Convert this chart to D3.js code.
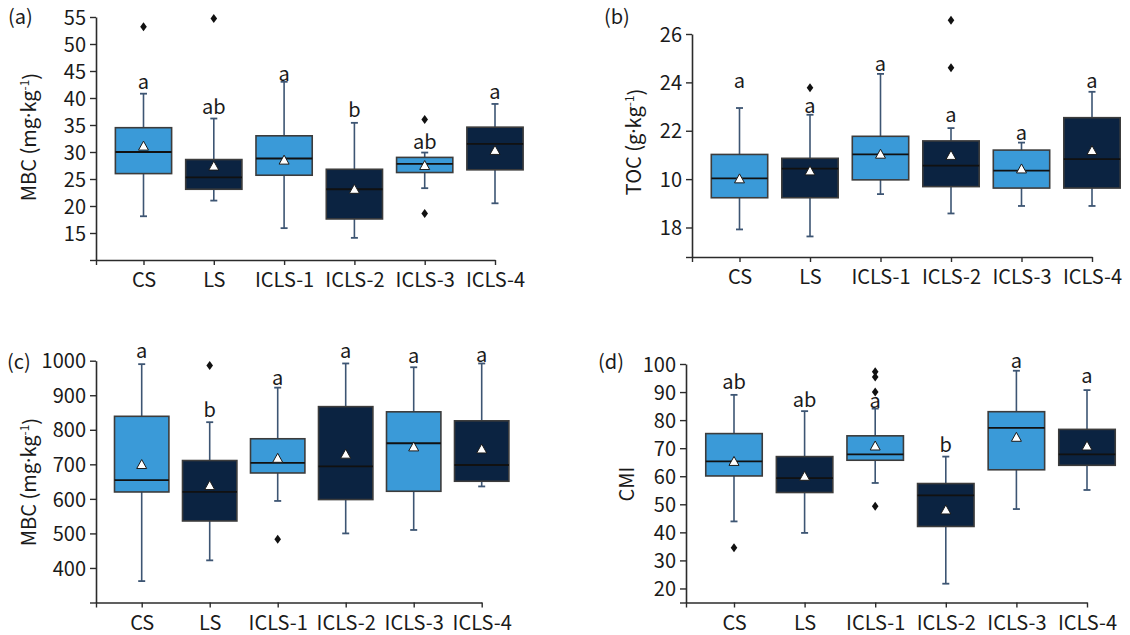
<!DOCTYPE html>
<html>
<head>
<meta charset="utf-8">
<script src="https://cdn.jsdelivr.net/npm/d3@7"></script>
<style>
  html, body { margin: 0; padding: 0; background: #fff; }
  svg { display: block; }
  text { font-family: "Noto Sans CJK SC", "Noto Sans", sans-serif; fill: #1a1a1a; }
</style>
</head>
<body>
<svg id="chart" width="1130" height="635"></svg>
<script>
// ---------------- DATA ----------------
const categories = ["CS", "LS", "ICLS-1", "ICLS-2", "ICLS-3", "ICLS-4"];

// (a) MBC (mg·kg-1)
const aTicks = [15, 20, 25, 30, 35, 40, 45, 50, 55];
const aLow    = [18.1, 21.0, 15.9, 14.1, 23.3, 20.5];
const aQ1     = [26.0, 23.1, 25.7, 17.6, 26.2, 26.7];
const aMedian = [30.0, 25.3, 28.8, 23.1, 27.8, 31.5];
const aQ3     = [34.5, 28.6, 33.0, 26.8, 29.0, 34.6];
const aHigh   = [40.8, 36.2, 43.0, 35.4, 29.9, 38.9];
const aMean   = [31.0, 27.3, 28.4, 23.0, 27.4, 30.2];
const aOutliers = [[53.2], [54.7], [], [], [36.0, 18.6], []];
const aLetters  = ["a", "ab", "a", "b", "ab", "a"];
const aLetterAt = [42.7, 38.2, 44.3, 37.6, 31.7, 40.9];

// (b) TOC (g·kg-1)
const bTicks = [18, 20, 22, 24, 26];
const bTickLabels = ["18", "10", "22", "24", "26"];
const bLow    = [17.92, 17.63, 19.38, 18.58, 18.89, 18.89];
const bQ1     = [19.23, 19.23, 19.97, 19.69, 19.63, 19.63];
const bMedian = [20.03, 20.43, 21.02, 20.56, 20.35, 20.83];
const bQ3     = [21.02, 20.86, 21.77, 21.58, 21.20, 22.54];
const bHigh   = [22.94, 22.66, 24.35, 22.11, 21.51, 23.61];
const bMean   = [19.99, 20.32, 21.01, 20.96, 20.40, 21.16];
const bOutliers = [[], [23.78], [], [26.57, 24.60], [], []];
const bLetters  = ["a", "a", "a", "a", "a", "a"];
const bLetterAt = [24.0, 23.0, 24.7, 22.6, 21.85, 24.0];

// (c) MBC (mg·kg-1)
const cTicks = [400, 500, 600, 700, 800, 900, 1000];
const cLow    = [362, 422, 594, 500, 510, 636];
const cQ1     = [620, 536, 675, 598, 622, 651];
const cMedian = [654, 620, 704, 694, 761, 698];
const cQ3     = [839, 711, 774, 867, 852, 826];
const cHigh   = [990, 822, 922, 992, 981, 992];
const cMean   = [698, 637, 716, 728, 749, 743];
const cOutliers = [[], [986], [483], [], [], []];
const cLetters  = ["a", "b", "a", "a", "a", "a"];
const cLetterAt = [1024, 855, 947, 1025, 1011, 1015];

// (d) CMI
const dTicks = [20, 30, 40, 50, 60, 70, 80, 90, 100];
const dLow    = [43.9, 39.8, 57.6, 21.7, 48.3, 55.1];
const dQ1     = [60.1, 54.2, 65.7, 42.1, 62.3, 63.9];
const dMedian = [65.3, 59.3, 67.8, 53.2, 77.2, 67.8];
const dQ3     = [75.2, 67.0, 74.4, 57.4, 83.0, 76.7];
const dHigh   = [89.0, 83.2, 84.1, 67.0, 97.6, 90.7];
const dMean   = [65.1, 59.8, 70.6, 47.8, 73.7, 70.6];
const dOutliers = [[34.5], [], [97.2, 95.4, 90.0, 49.3], [], [], []];
const dLetters  = ["ab", "ab", "a", "b", "a", "a"];
const dLetterAt = [93.1, 86.8, 86.5, 70.8, 100.6, 95.3];

// ---------------- STYLE ----------------
const fills = ["#3a9ad8", "#0b2341", "#3a9ad8", "#0b2341", "#3a9ad8", "#0b2341"];
const boxStroke = "#3c3c3c";
const whiskerColor = "#3d5573";
const axisColor = "#2b2b2b";
const fontSize = 20;
const fontFam = '"Noto Sans CJK SC", "Noto Sans", sans-serif';

const svg = d3.select("#chart");

function drawPanel(cfg) {
  const g = svg.append("g");
  const y = d3.scaleLinear().domain([cfg.yMin, cfg.yMax]).range([cfg.yBottom, cfg.yTop]);
  const spacing = (cfg.cx5 - cfg.cx0) / 5;
  const xStart = -(cfg.cx0 - cfg.ax) / spacing;
  const x = d3.scaleLinear().domain([xStart, 5]).range([cfg.ax, cfg.cx5]);
  const boxW = spacing * 0.8;

  // y axis
  const yAxis = d3.axisLeft(y)
    .tickValues([cfg.yMin].concat(cfg.ticks))
    .tickFormat(d => {
      if (d === cfg.yMin) return "";
      const i = cfg.ticks.indexOf(d);
      return cfg.tickLabels ? cfg.tickLabels[i] : String(d);
    })
    .tickSize(6).tickPadding(4).tickSizeOuter(0);
  const ya = g.append("g").attr("transform", `translate(${cfg.ax},0)`).call(yAxis);

  // x axis
  const xAxis = d3.axisBottom(x)
    .tickValues([xStart, 0, 1, 2, 3, 4, 5])
    .tickFormat(d => d === xStart ? "" : categories[d])
    .tickSize(5).tickPadding(8).tickSizeOuter(0);
  const xa = g.append("g").attr("transform", `translate(0,${cfg.yBottom})`).call(xAxis);

  [ya, xa].forEach(a => {
    a.select(".domain").attr("stroke", axisColor).attr("stroke-width", 1.6);
    a.selectAll(".tick line").attr("stroke", axisColor).attr("stroke-width", 1.4);
    a.selectAll(".tick text").attr("font-size", fontSize).attr("fill", "#1a1a1a")
      .attr("font-family", fontFam);
  });
  ya.selectAll(".tick text").attr("dy", "0.36em");

  const d = categories.map((c, i) => ({
    i, low: cfg.low[i], q1: cfg.q1[i], med: cfg.median[i], q3: cfg.q3[i],
    high: cfg.high[i], mean: cfg.mean[i], out: cfg.outliers[i],
    letter: cfg.letters[i], letterAt: cfg.letterAt[i]
  }));

  const grp = g.selectAll("g.box").data(d).enter().append("g").attr("class", "box");

  // whiskers
  grp.append("line")
    .attr("x1", b => x(b.i)).attr("x2", b => x(b.i))
    .attr("y1", b => y(b.high)).attr("y2", b => y(b.q3))
    .attr("stroke", whiskerColor).attr("stroke-width", 1.6);
  grp.append("line")
    .attr("x1", b => x(b.i)).attr("x2", b => x(b.i))
    .attr("y1", b => y(b.q1)).attr("y2", b => y(b.low))
    .attr("stroke", whiskerColor).attr("stroke-width", 1.6);
  // caps
  grp.append("line")
    .attr("x1", b => x(b.i) - 3.5).attr("x2", b => x(b.i) + 3.5)
    .attr("y1", b => y(b.high)).attr("y2", b => y(b.high))
    .attr("stroke", whiskerColor).attr("stroke-width", 1.8);
  grp.append("line")
    .attr("x1", b => x(b.i) - 3.5).attr("x2", b => x(b.i) + 3.5)
    .attr("y1", b => y(b.low)).attr("y2", b => y(b.low))
    .attr("stroke", whiskerColor).attr("stroke-width", 1.8);

  // box
  grp.append("rect")
    .attr("x", b => x(b.i) - boxW / 2).attr("width", boxW)
    .attr("y", b => y(b.q3)).attr("height", b => y(b.q1) - y(b.q3))
    .attr("fill", b => fills[b.i]).attr("stroke", boxStroke).attr("stroke-width", 1.6);

  // median
  grp.append("line")
    .attr("x1", b => x(b.i) - boxW / 2).attr("x2", b => x(b.i) + boxW / 2)
    .attr("y1", b => y(b.med)).attr("y2", b => y(b.med))
    .attr("stroke", "#111").attr("stroke-width", 1.8);

  // mean triangle
  grp.append("path")
    .attr("d", b => {
      const cx = x(b.i), cy = y(b.mean);
      return `M${cx},${cy - 5.5} L${cx + 5},${cy + 3.5} L${cx - 5},${cy + 3.5} Z`;
    })
    .attr("fill", "#fff").attr("stroke", "#1a1a1a").attr("stroke-width", 1);

  // outliers (diamonds)
  grp.selectAll("path.out").data(b => b.out.map(v => ({ i: b.i, v })))
    .enter().append("path").attr("class", "out")
    .attr("d", o => {
      const cx = x(o.i), cy = y(o.v);
      return `M${cx},${cy - 4.5} L${cx + 3.3},${cy} L${cx},${cy + 4.5} L${cx - 3.3},${cy} Z`;
    })
    .attr("fill", "#111");

  // significance letters
  grp.append("text")
    .attr("x", b => x(b.i)).attr("y", b => y(b.letterAt))
    .attr("dy", "0.3em")
    .attr("text-anchor", "middle").attr("font-size", fontSize)
    .text(b => b.letter);

  // panel label
  g.append("text").attr("x", cfg.panelX).attr("y", cfg.panelY)
    .attr("font-size", fontSize).text(cfg.panel);

  // y title
  const t = g.append("text")
    .attr("transform", `translate(${cfg.titleX},${cfg.titleY}) rotate(-90)`)
    .attr("text-anchor", "middle").attr("font-size", fontSize);
  t.append("tspan").text(cfg.titleMain);
  if (cfg.titleSup) {
    t.append("tspan").attr("font-family", '"Noto Sans", sans-serif').text("·");
    t.append("tspan").text(cfg.titleUnit2);
    t.append("tspan").attr("font-size", 12).attr("dy", "-0.6em").text(cfg.titleSup);
    t.append("tspan").attr("dy", "0.45em").attr("font-size", fontSize).text(cfg.titleEnd);
  }
}

drawPanel({
  panel: "(a)", panelX: 8, panelY: 24,
  ax: 96, cx0: 143.5, cx5: 495, yMin: 10, yMax: 55, yTop: 17, yBottom: 260,
  ticks: aTicks, low: aLow, q1: aQ1, median: aMedian, q3: aQ3, high: aHigh, mean: aMean,
  outliers: aOutliers, letters: aLetters, letterAt: aLetterAt,
  titleX: 36, titleY: 137, titleMain: "MBC (mg", titleUnit2: "kg", titleSup: "-1", titleEnd: ")"
});
drawPanel({
  panel: "(b)", panelX: 604, panelY: 24,
  ax: 692, cx0: 739.5, cx5: 1092, yMin: 16.78, yMax: 26, yTop: 34, yBottom: 257,
  ticks: bTicks, tickLabels: bTickLabels, low: bLow, q1: bQ1, median: bMedian, q3: bQ3, high: bHigh, mean: bMean,
  outliers: bOutliers, letters: bLetters, letterAt: bLetterAt,
  titleX: 641, titleY: 142, titleMain: "TOC (g", titleUnit2: "kg", titleSup: "-1", titleEnd: ")"
});
drawPanel({
  panel: "(c)", panelX: 7, panelY: 369,
  ax: 96, cx0: 141.7, cx5: 481.7, yMin: 300, yMax: 1000, yTop: 360.7, yBottom: 602.5,
  ticks: cTicks, low: cLow, q1: cQ1, median: cMedian, q3: cQ3, high: cHigh, mean: cMean,
  outliers: cOutliers, letters: cLetters, letterAt: cLetterAt,
  titleX: 36, titleY: 482, titleMain: "MBC (mg", titleUnit2: "kg", titleSup: "-1", titleEnd: ")"
});
drawPanel({
  panel: "(d)", panelX: 598, panelY: 369,
  ax: 686, cx0: 734, cx5: 1087, yMin: 15, yMax: 100, yTop: 364, yBottom: 602.5,
  ticks: dTicks, low: dLow, q1: dQ1, median: dMedian, q3: dQ3, high: dHigh, mean: dMean,
  outliers: dOutliers, letters: dLetters, letterAt: dLetterAt,
  titleX: 634, titleY: 484, titleMain: "CMI"
});
</script>
</body>
</html>
